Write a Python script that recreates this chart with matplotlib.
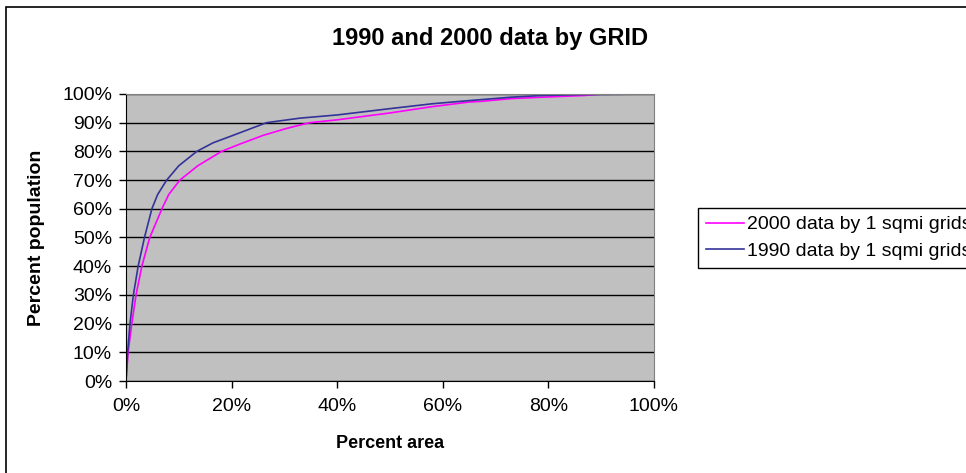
import matplotlib

matplotlib.use("Agg")
import matplotlib.pyplot as plt
from matplotlib.patches import Rectangle
from matplotlib.ticker import FuncFormatter, MultipleLocator

# cumulative share of population vs share of area (percent)
area_2000 = [0, 0.4, 1.1, 1.9, 3.0, 4.5, 6.8, 8.1, 10.2, 13.6, 18.1, 21.5, 26, 30.4, 33,
             34.8, 40, 50, 58, 65, 67, 73, 79, 87, 90, 100]
pop_2000 = [0, 10, 20, 30, 40, 50, 60, 65, 70, 75, 80, 82.5, 85.6, 88, 89.2,
            90, 91, 93.4, 95.6, 97.2, 97.4, 98.4, 98.9, 99.5, 100, 100]

area_1990 = [0, 0.3, 0.76, 1.4, 2.3, 3.5, 4.9, 6.0, 7.7, 10, 13.4, 16.5, 20, 26.6, 33,
             40, 50, 58, 65, 67, 73, 79, 87, 100]
pop_1990 = [0, 10, 20, 30, 40, 50, 60, 65, 70, 75, 80, 83, 85.4, 90, 91.6,
            92.7, 94.9, 96.6, 97.7, 98, 98.9, 99.5, 99.8, 100]

label_2000 = "2000 data by 1 sqmi grids"
label_1990 = "1990 data by 1 sqmi grids"

W, H = 966, 473
plt.rcParams["font.family"] = ["Liberation Sans", "DejaVu Sans"]

fig = plt.figure(figsize=(W / 100, H / 100), dpi=100)

# chart frame, open on the right and bottom edges
fig.patches.append(Rectangle((6 / W, -0.1), 2.0, 1 - 7 / H + 0.1, transform=fig.transFigure,
                             fill=False, edgecolor="black", linewidth=1.2))

ax = fig.add_axes([126 / W, 1 - 381 / H, (654 - 126) / W, (381 - 94) / H])
ax.set_facecolor("#C0C0C0")

ax.plot(area_2000, pop_2000, color="#FF00FF", linewidth=1.2, label=label_2000)
ax.plot(area_1990, pop_1990, color="#333399", linewidth=1.2, label=label_1990)

ax.set_xlim(0, 100)
ax.set_ylim(0, 100)
ax.xaxis.set_major_locator(MultipleLocator(20))
ax.yaxis.set_major_locator(MultipleLocator(10))
pct = FuncFormatter(lambda v, _: f"{v:.0f}%")
ax.xaxis.set_major_formatter(pct)
ax.yaxis.set_major_formatter(pct)
ax.grid(axis="y", color="black", linewidth=1.0)
ax.set_axisbelow(True)

for side in ("top", "right"):
    ax.spines[side].set_color("#808080")
for side in ("left", "bottom"):
    ax.spines[side].set_color("black")
ax.tick_params(direction="out", length=5, width=1, labelsize=14)
ax.tick_params(axis="x", pad=7)
ax.tick_params(axis="y", pad=5)

ax.set_xlabel("Percent area", fontsize=13, fontweight="bold", va="center")
ax.set_ylabel("Percent population", fontsize=14, fontweight="bold", va="center")
ax.xaxis.set_label_coords(0.5, (381 - 443) / 287)
ax.yaxis.set_label_coords((37 - 126) / 528, 0.5)

fig.text(490 / W, 1 - 38 / H, "1990 and 2000 data by GRID", ha="center", va="center",
         fontsize=17, fontweight="bold")

leg = fig.legend(loc="upper left", bbox_to_anchor=(698 / W, 1 - 208 / H), fontsize=14,
                 frameon=True, fancybox=False, edgecolor="black", framealpha=1,
                 handlelength=1.95, handletextpad=0.15, borderpad=0.4, labelspacing=0.45,
                 borderaxespad=0)
leg.get_frame().set_linewidth(1.0)

fig.savefig("out.png", dpi=100)
